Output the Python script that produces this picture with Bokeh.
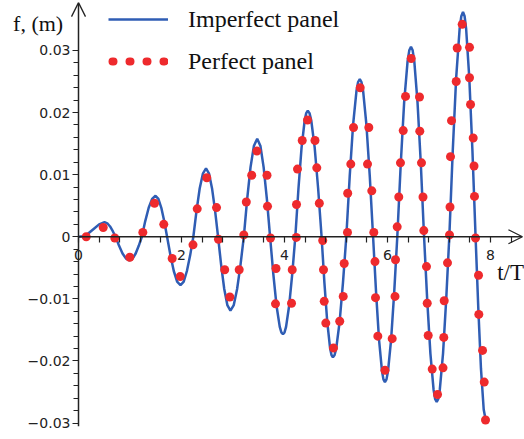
from bokeh.plotting import figure
from bokeh.models import (LinearAxis, FixedTicker, Range1d, Arrow,
                          OpenHead, Label, Legend, LegendItem)
from bokeh.embed import file_html
from bokeh.resources import INLINE

# ---- data ----
imperfect_t = [0, 0.1, 0.2, 0.3, 0.4,
               0.505, 0.559, 0.613, 0.666,
               0.72, 0.788, 0.855, 0.923,
               0.99, 1.05, 1.11, 1.17,
               1.23, 1.296, 1.363, 1.429,
               1.495, 1.551, 1.608, 1.664,
               1.72, 1.785, 1.85, 1.915,
               1.98, 2.043, 2.105, 2.168,
               2.23, 2.292, 2.353, 2.415,
               2.476, 2.535, 2.593, 2.652,
               2.71, 2.77, 2.83, 2.89,
               2.95, 3.015, 3.08, 3.145,
               3.21, 3.275, 3.34, 3.405,
               3.47, 3.533, 3.595, 3.658,
               3.72, 3.783, 3.845, 3.908, 3.939,
               3.97, 4.0, 4.03, 4.09, 4.15,
               4.21, 4.271, 4.331, 4.392, 4.422,
               4.452, 4.4855, 4.519, 4.586, 4.653,
               4.72, 4.775, 4.83, 4.885, 4.9125,
               4.94, 4.9725, 5.005, 5.07, 5.135,
               5.20, 5.266, 5.331, 5.397, 5.429,
               5.462, 5.494, 5.527, 5.591, 5.656,
               5.72, 5.778, 5.835, 5.893, 5.921,
               5.95, 5.98, 6.01, 6.07, 6.13,
               6.19, 6.257, 6.323, 6.39, 6.423,
               6.456, 6.488, 6.52, 6.583, 6.647,
               6.71, 6.771, 6.833, 6.894, 6.924,
               6.955, 6.986, 7.016, 7.078, 7.139,
               7.20, 7.267, 7.333, 7.40, 7.433,
               7.466, 7.497, 7.527, 7.588, 7.649,
               7.71, 7.763, 7.815, 7.868, 7.92]
imperfect_f = [0, 0.0001, 0.0006, 0.0013, 0.002,
               0.00235, 0.00217, 0.00166, 0.0009,
               0, -0.00146, -0.00269, -0.00351,
               -0.0038, -0.00351, -0.00269, -0.00146,
               0, 0.00253, 0.00467, 0.0061,
               0.0066, 0.0061, 0.00467, 0.00253,
               0, -0.00299, -0.00551, -0.00721,
               -0.0078, -0.00721, -0.00551, -0.00299,
               0, 0.00421, 0.00778, 0.01016,
               0.011, 0.01016, 0.00778, 0.00421,
               0, -0.00456, -0.00841, -0.011,
               -0.0119, -0.011, -0.00841, -0.00456,
               0, 0.00605, 0.01117, 0.0146,
               0.0158, 0.0146, 0.01117, 0.00605,
               0, -0.00601, -0.0111, -0.01451, -0.0154,
               -0.0157, -0.0154, -0.01451, -0.0111, -0.00601,
               0, 0.00777, 0.01435, 0.01876, 0.01991,
               0.0203, 0.01991, 0.01876, 0.01435, 0.00777,
               0, -0.00743, -0.01372, -0.01793, -0.01903,
               -0.0194, -0.01903, -0.01793, -0.01372, -0.00743,
               0, 0.00973, 0.01796, 0.02347, 0.02492,
               0.0254, 0.02492, 0.02347, 0.01796, 0.00973,
               0, -0.00896, -0.01654, -0.02162, -0.02296,
               -0.0234, -0.02296, -0.02162, -0.01654, -0.00896,
               0, 0.01172, 0.02163, 0.02827, 0.03002,
               0.0306, 0.03002, 0.02827, 0.02163, 0.01172,
               0, -0.01019, -0.01881, -0.02458, -0.0261,
               -0.0266, -0.0261, -0.02458, -0.01881, -0.01019,
               0, 0.01386, 0.02559, 0.03345, 0.03551,
               0.0362, 0.03551, 0.03345, 0.02559, 0.01386,
               0, -0.01153, -0.02128, -0.02781, -0.0301]

perfect_t = [0.15, 0.48, 0.705, 0.996, 1.249, 1.476, 1.656, 1.819, 1.975, 2.223,
             2.305, 2.491, 2.68, 2.718, 2.839, 2.938, 3.12, 3.21, 3.258, 3.363,
             3.464, 3.66, 3.67, 3.728, 3.835, 3.825, 4.136, 4.15, 4.229, 4.233,
             4.252, 4.344, 4.447, 4.592, 4.627, 4.676, 4.742, 4.757, 4.771, 4.802,
             4.951, 5.072, 5.14, 5.159, 5.223, 5.227, 5.287, 5.34, 5.47, 5.637,
             5.612, 5.695, 5.734, 5.757, 5.767, 5.812, 5.951, 6.091, 6.146, 6.155,
             6.188, 6.219, 6.252, 6.305, 6.35, 6.46, 6.621, 6.627, 6.66, 6.689,
             6.705, 6.757, 6.771, 6.79, 6.868, 6.971, 7.078, 7.093, 7.101, 7.165,
             7.204, 7.214, 7.223, 7.243, 7.334, 7.353, 7.45, 7.592, 7.592, 7.612,
             7.664, 7.68, 7.689, 7.709, 7.767, 7.773, 7.845, 7.878, 7.903]
perfect_f = [0.0, 0.0015, -0.0002, -0.0033, 0.0007, 0.0054, 0.002, -0.0035, -0.0064, -0.0013,
             0.0045, 0.0095, 0.0047, -0.0004, -0.0053, -0.0097, -0.0053, 0.0003, 0.0056, 0.0099,
             0.0138, 0.0099, 0.0049, -0.0002, -0.0051, -0.0108, -0.0107, -0.0053, -0.0001, 0.0052,
             0.0109, 0.0155, 0.0188, 0.0155, 0.0111, 0.0054, -0.0006, -0.0053, -0.0104, -0.0139,
             -0.0179, -0.0136, -0.0096, -0.0043, 0.0007, 0.007, 0.0117, 0.0176, 0.024, 0.0176,
             0.0117, 0.0074, 0.0007, -0.004, -0.0098, -0.016, -0.0215, -0.0164, -0.0096, -0.0037,
             0.0016, 0.0064, 0.0119, 0.0171, 0.0226, 0.0287, 0.0225, 0.017, 0.0119, 0.0064,
             0.001, -0.0048, -0.0107, -0.0159, -0.0213, -0.0254, -0.0211, -0.0162, -0.0103, -0.0042,
             0.0003, 0.0048, 0.0129, 0.0187, 0.025, 0.0304, 0.0342, 0.0305, 0.0256, 0.0213,
             0.0159, 0.0114, 0.0065, -0.0002, -0.0062, -0.0125, -0.0183, -0.0234, -0.0295]

x_major_ticks = [0, 2, 4, 6, 8]
x_minor_ticks = [0.4, 0.8, 1.2, 1.6, 2.4, 2.8, 3.2, 3.6, 4.4, 4.8, 5.2, 5.6,
                 6.4, 6.8, 7.2, 7.6, 8.4]
y_major_ticks = [-0.03, -0.02, -0.01, 0, 0.01, 0.02, 0.03]
y_minor_ticks = [-0.028, -0.026, -0.024, -0.022, -0.018, -0.016, -0.014, -0.012,
                 -0.008, -0.006, -0.004, -0.002, 0.002, 0.004, 0.006, 0.008,
                 0.012, 0.014, 0.016, 0.018, 0.022, 0.024, 0.026, 0.028]
legend_labels = ["Imperfect panel", "Perfect panel"]
x_label = "t/T"
y_label = "f, (m)"

BLUE = "#2f5db4"
RED = "#ee2a2d"
AXIS = "#222222"

X_END = 8.62
Y_TOP = 0.0377
Y_BOTTOM = -0.0305

p = figure(width=524, height=439, output_backend="svg", toolbar_location=None,
           x_axis_location=None, y_axis_location=None,
           x_range=Range1d(-1.5146, 8.66), y_range=Range1d(-0.03264, 0.03772),
           min_border_left=0, min_border_right=0, min_border_top=2, min_border_bottom=0)
p.xgrid.visible = False
p.ygrid.visible = False
p.outline_line_color = None

xaxis = LinearAxis(fixed_location=0,
                   ticker=FixedTicker(ticks=x_major_ticks, minor_ticks=x_minor_ticks))
yaxis = LinearAxis(fixed_location=0,
                   ticker=FixedTicker(ticks=y_major_ticks, minor_ticks=y_minor_ticks))
for ax in (xaxis, yaxis):
    ax.axis_line_color = None
    ax.major_tick_line_color = AXIS
    ax.minor_tick_line_color = AXIS
    ax.major_tick_line_width = 1.2
    ax.minor_tick_line_width = 1.2
    ax.major_tick_in = 0
    ax.minor_tick_in = 0
    ax.major_label_text_font = "DejaVu Sans"
    ax.major_label_text_font_size = "14px"
    ax.major_label_text_color = AXIS
xaxis.major_tick_out = 6
xaxis.minor_tick_out = 6
xaxis.major_label_standoff = 7
yaxis.major_tick_out = 6
yaxis.minor_tick_out = 5
yaxis.major_label_standoff = 2
yaxis.major_label_overrides = {0: "0"}
p.add_layout(xaxis, "below")
p.add_layout(yaxis, "left")

# axis shafts with open arrow heads
p.add_layout(Arrow(end=OpenHead(size=14, line_width=1.3, line_color=AXIS),
                   line_color=AXIS, line_width=1.5,
                   x_start=0, y_start=0, x_end=X_END, y_end=0))
p.add_layout(Arrow(end=OpenHead(size=14, line_width=1.3, line_color=AXIS),
                   line_color=AXIS, line_width=1.5,
                   x_start=0, y_start=Y_BOTTOM, x_end=0, y_end=Y_TOP))

curve = p.line(imperfect_t, imperfect_f, line_color=BLUE, line_width=2.5)
p.scatter(perfect_t, perfect_f, size=9, fill_color=RED, line_color=RED, line_width=0)

# hidden renderer used only for the dotted legend row
leg_dots = p.line(perfect_t, perfect_f, line_color=RED, line_width=8, line_dash="1 16",
                  line_cap="round", line_dash_offset=13, visible=False)
legend = Legend(items=[LegendItem(label=legend_labels[0], renderers=[curve]),
                       LegendItem(label=legend_labels[1], renderers=[leg_dots])],
                location=(108, 364), glyph_width=60, glyph_height=28, label_height=28,
                label_standoff=20, spacing=14, padding=0, margin=0,
                border_line_alpha=0, background_fill_alpha=0,
                inactive_fill_alpha=0,
                label_text_font="Liberation Serif", label_text_font_size="24px",
                label_text_color="#111111")
p.add_layout(legend)

p.add_layout(Label(x=8.13, y=-0.00575, text=x_label, text_font="Liberation Serif",
                   text_font_size="23px", text_baseline="alphabetic", text_color="#111111"))
p.add_layout(Label(x=-1.27, y=0.03434, text=y_label, text_font="Liberation Serif",
                   text_font_size="22px", text_baseline="alphabetic", text_color="#111111"))

open("out.html", "w").write(file_html(p, INLINE))
